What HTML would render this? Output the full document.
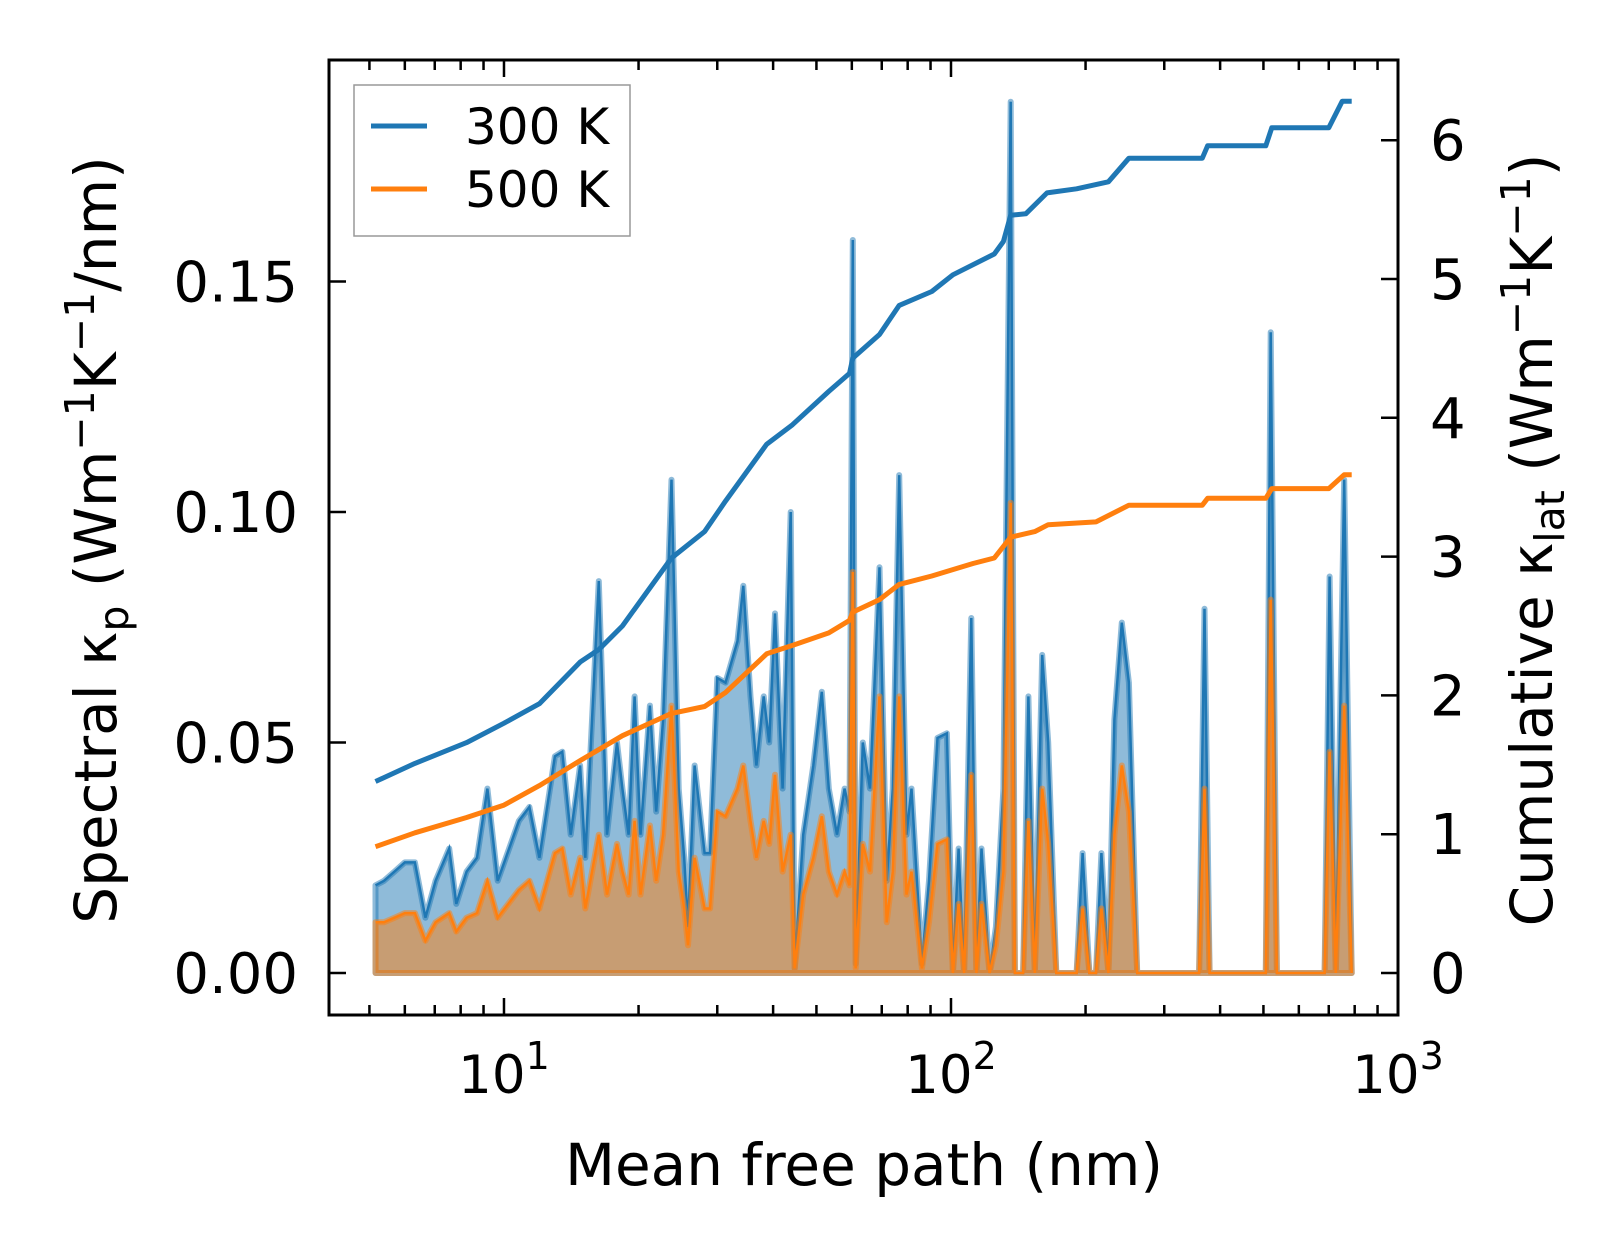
<!DOCTYPE html>
<html><head><meta charset="utf-8"><style>
html,body{margin:0;padding:0;background:#fff;}
svg{display:block;font-family:"DejaVu Sans","Liberation Sans",sans-serif;}
</style></head><body>
<svg id="chart" width="1623" height="1254" viewBox="0 0 1623 1254" xmlns="http://www.w3.org/2000/svg">
<rect width="1623" height="1254" fill="#fff"/>
<g id="plot"></g>
</svg>
<script>
const mfp=[5.16,5.39,5.69,6.00,6.32,6.67,7.03,7.54,7.82,8.25,8.70,9.18,9.68,10.8,11.4,12.0,13.0,13.5,14.1,14.8,15.2,16.3,17.0,17.9,18.4,19.0,19.6,20.2,21.2,21.9,22.7,23.7,24.6,25.3,25.8,26.7,28.1,28.9,30.0,31.3,33.3,34.3,35.6,36.7,38.1,39.2,40.4,42.0,43.8,44.7,46.7,49.2,51.4,53.3,55.6,57.8,59.3,60.3,61.2,63.5,65.9,69.2,71.8,74.1,76.6,79.5,81.6,86.1,89.3,93.3,97.9,101,104,107,111,114,117,122,126,131,136,139,145,149,154,160,165,172,191,197,204,211,217,225,232,241,250,261,359,369,379,506,519,536,685,703,726,758,788];
const k300=[0.019,0.020,0.022,0.024,0.024,0.012,0.020,0.027,0.015,0.022,0.025,0.040,0.020,0.033,0.036,0.025,0.047,0.048,0.030,0.045,0.025,0.085,0.030,0.050,0.040,0.030,0.060,0.030,0.058,0.035,0.055,0.107,0.040,0.025,0.010,0.045,0.026,0.026,0.064,0.063,0.072,0.084,0.060,0.045,0.060,0.050,0.078,0.040,0.100,0.001,0.030,0.045,0.061,0.040,0.030,0.040,0.035,0.159,0.002,0.050,0.040,0.088,0.020,0.040,0.108,0.030,0.040,0.002,0.020,0.051,0.052,0.000,0.027,0.000,0.077,0.000,0.027,0.000,0.010,0.040,0.189,0.000,0.000,0.060,0.000,0.069,0.050,0.000,0.000,0.026,0.000,0.000,0.026,0.000,0.055,0.076,0.063,0.000,0.000,0.079,0.000,0.000,0.139,0.000,0.000,0.086,0.000,0.107,0.000];
const k500=[0.011,0.011,0.012,0.013,0.013,0.007,0.011,0.013,0.009,0.012,0.013,0.020,0.012,0.018,0.020,0.014,0.026,0.027,0.017,0.025,0.014,0.030,0.017,0.028,0.022,0.017,0.033,0.017,0.032,0.020,0.030,0.058,0.022,0.014,0.006,0.025,0.014,0.014,0.035,0.034,0.040,0.045,0.033,0.025,0.033,0.028,0.043,0.022,0.030,0.001,0.017,0.025,0.034,0.022,0.017,0.022,0.019,0.087,0.001,0.028,0.022,0.060,0.011,0.022,0.060,0.017,0.022,0.001,0.011,0.028,0.029,0.000,0.015,0.000,0.043,0.000,0.015,0.000,0.006,0.022,0.102,0.000,0.000,0.033,0.000,0.040,0.028,0.000,0.000,0.014,0.000,0.000,0.014,0.000,0.030,0.045,0.035,0.000,0.000,0.040,0.000,0.000,0.081,0.000,0.000,0.048,0.000,0.058,0.000];
const cumX300=[5.16,6.32,8.25,10,12.0,14.8,16.3,18.4,23.7,28.1,31.3,38.7,44.2,53.3,59.3,60.3,69.2,76.6,90.6,101,125,131,136,147,164,191,225,250,365,375,506,522,700,750,788];
const cum300=[1.38,1.51,1.66,1.80,1.94,2.24,2.33,2.50,2.99,3.18,3.40,3.81,3.95,4.19,4.32,4.43,4.60,4.81,4.91,5.03,5.18,5.27,5.46,5.47,5.62,5.65,5.70,5.87,5.87,5.96,5.96,6.09,6.09,6.28,6.28];
const cumX500=[5.16,6.32,8.25,10,12.0,14.8,18.4,23.7,28.1,31.3,38.7,44.2,53.3,59.3,60.3,69.2,76.6,90.6,112,125,136,154,165,211,250,365,375,506,522,700,758,788];
const cum500=[0.91,1.01,1.12,1.21,1.35,1.53,1.71,1.87,1.92,2.02,2.30,2.36,2.45,2.54,2.60,2.69,2.80,2.86,2.95,2.99,3.14,3.18,3.23,3.25,3.37,3.37,3.42,3.42,3.49,3.49,3.59,3.59];
const leftTicks=[0,0.05,0.10,0.15];
const leftTickLabels=["0.00","0.05","0.10","0.15"];
const rightTicks=[0,1,2,3,4,5,6];
const rightTickLabels=["0","1","2","3","4","5","6"];
const xMajor=[10,100,1000];
const xMajorExp=["1","2","3"];

const L=329,R=1398,T=60,B=1015;
const xMin=Math.log10(4.06),xMax=3.0;
function X(v){return L+(Math.log10(v)-xMin)/(xMax-xMin)*(R-L);}
function YL(v){return 973-v*4610;}
function YR(v){return 973-v*138.8;}
const NS="http://www.w3.org/2000/svg";
const g=document.getElementById('plot');
function mk(tag,attrs,parent){const e=document.createElementNS(NS,tag);for(const k in attrs)e.setAttribute(k,attrs[k]);(parent||g).appendChild(e);return e;}

function areaPath(ys){let d='M'+X(mfp[0])+','+YL(0);for(let i=0;i<mfp.length;i++)d+=' L'+X(mfp[i]).toFixed(1)+','+YL(ys[i]).toFixed(1);d+=' L'+X(mfp[mfp.length-1])+','+YL(0)+' Z';return d;}
function linePath(xs,ys,yf){let d='';for(let i=0;i<xs.length;i++)d+=(i?' L':'M')+X(xs[i]).toFixed(1)+','+yf(ys[i]).toFixed(1);return d;}
const f1=mk('path',{d:areaPath(k300),fill:'#1f77b4','fill-opacity':0.5,stroke:'#1f77b4','stroke-opacity':0.5,'stroke-width':6,'stroke-linejoin':'round'});


const l1=mk('path',{d:linePath(mfp,k300,YL),fill:'none',stroke:'#1f77b4','stroke-width':2.5});


const f2=mk('path',{d:areaPath(k500),fill:'#ff7f0e','fill-opacity':0.5,stroke:'#ff7f0e','stroke-opacity':0.5,'stroke-width':6,'stroke-linejoin':'round'});


const l2=mk('path',{d:linePath(mfp,k500,YL),fill:'none',stroke:'#ff7f0e','stroke-width':2.5});


const c1=mk('path',{d:linePath(cumX300,cum300,YR),fill:'none',stroke:'#1f77b4','stroke-width':5,'stroke-linejoin':'round'});


const c2=mk('path',{d:linePath(cumX500,cum500,YR),fill:'none',stroke:'#ff7f0e','stroke-width':5,'stroke-linejoin':'round'});



const fr=mk('rect',{x:L,y:T,width:R-L,height:B-T,fill:'none',stroke:'#000','stroke-width':3});



for(let d=0;d<4;d++){for(let m=1;m<10;m++){const v=m*Math.pow(10,d);const lv=Math.log10(v);if(lv<xMin||lv>xMax+1e-9)continue;const x=X(v);const len=(m===1)?17:10;
const t=mk('path',{d:`M${x},${B} V${B-len} M${x},${T} V${T+len}`,stroke:'#000','stroke-width':2.5});

}}
for(let i=0;i<xMajor.length;i++){const x=X(xMajor[i]);const tx=mk('text',{x:x,y:1093,'font-size':53,'text-anchor':'middle',fill:'#000'});tx.textContent='10';
const s=mk('tspan',{dy:-24,'font-size':38},tx);s.textContent=xMajorExp[i];

}
for(let i=0;i<leftTicks.length;i++){const y=YL(leftTicks[i]);
const t=mk('path',{d:`M${L},${y} H${L+17}`,stroke:'#000','stroke-width':2.5});


const tx=mk('text',{x:298,y:y+20,'font-size':56,'text-anchor':'end',fill:'#000'});tx.textContent=leftTickLabels[i];

}
for(let i=0;i<rightTicks.length;i++){const y=YR(rightTicks[i]);
const t=mk('path',{d:`M${R},${y} H${R-17}`,stroke:'#000','stroke-width':2.5});


const tx=mk('text',{x:1430,y:y+20,'font-size':56,'text-anchor':'start',fill:'#000'});tx.textContent=rightTickLabels[i];

}
</script>
<script>
const svg=document.getElementById('chart');
svg.insertAdjacentHTML('beforeend',`
<text x="864" y="1185" font-size="58" text-anchor="middle">Mean free path (nm)</text>
<text transform="translate(116,540) rotate(-90)" font-size="58" text-anchor="middle">Spectral κ<tspan font-size="41" dy="12">p</tspan><tspan dy="-12"> (Wm</tspan><tspan font-size="41" dy="-22">−1</tspan><tspan dy="22">K</tspan><tspan font-size="41" dy="-22">−1</tspan><tspan dy="22">/nm)</tspan></text>
<text transform="translate(1552,540) rotate(-90)" font-size="58" text-anchor="middle">Cumulative κ<tspan font-size="41" dy="12">lat</tspan><tspan dy="-12"> (Wm</tspan><tspan font-size="41" dy="-22">−1</tspan><tspan dy="22">K</tspan><tspan font-size="41" dy="-22">−1</tspan><tspan dy="22">)</tspan></text>
<g>
<rect x="354" y="85" width="276" height="151" fill="#fff" fill-opacity="0.8" stroke="#999" stroke-width="1.5"/>
<line x1="371" y1="126" x2="427" y2="126" stroke="#1f77b4" stroke-width="5"/>
<text x="465" y="144" font-size="50">300 K</text>
<line x1="371" y1="189" x2="427" y2="189" stroke="#ff7f0e" stroke-width="5"/>
<text x="465" y="207" font-size="50">500 K</text>
</g>`);
</script>
</body></html>
